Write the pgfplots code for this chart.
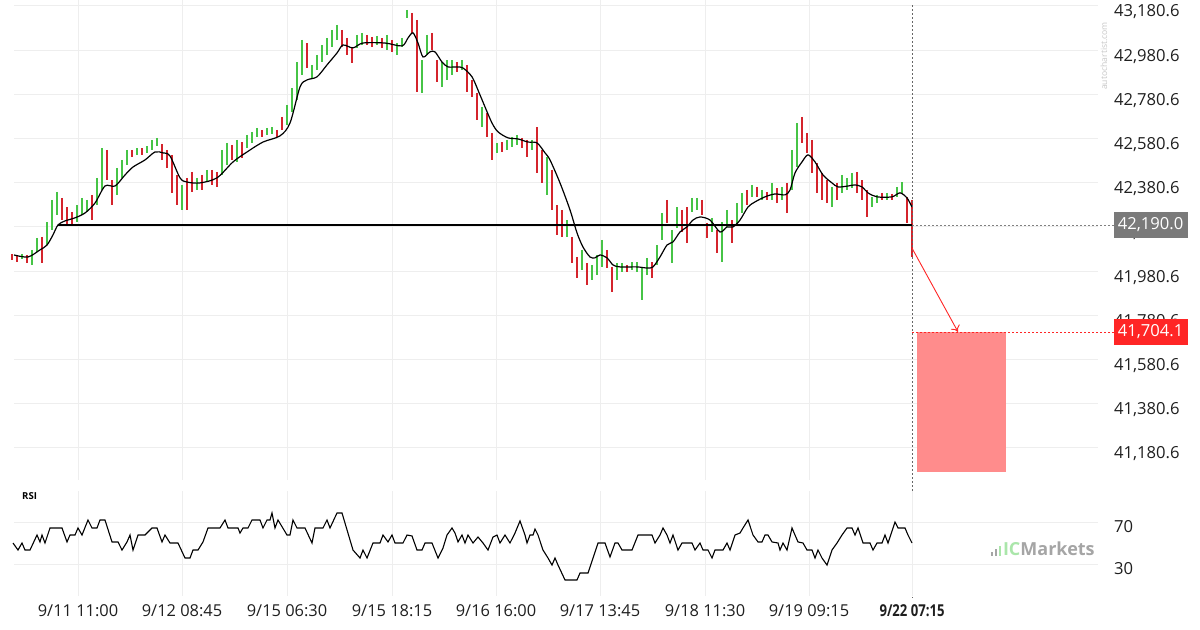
\documentclass[border=0pt]{standalone}
\usepackage{fontspec}
\setmainfont{Open Sans}
\usepackage{graphicx}
\usepackage{pgfplots}
\usepackage{pgfplotstable}
\usetikzlibrary{arrows.meta}
\pgfplotsset{compat=1.18}
\definecolor{upgreen}{RGB}{70,196,70}
\definecolor{dnred}{RGB}{212,36,44}
\definecolor{gridc}{RGB}{238,238,238}
\definecolor{boxred}{RGB}{255,140,140}
\definecolor{lblred}{RGB}{255,38,38}
\definecolor{lblgray}{RGB}{122,122,122}
\definecolor{icgreen}{RGB}{170,230,170}
\definecolor{icgray}{RGB}{165,165,165}

\pgfplotstableread{
x lo hi
22 42036 42059
32 42009 42077
37 42068 42131
47 42099 42203
52 42167 42303
57 42235 42339
77 42203 42280
82 42235 42312
87 42249 42303
97 42280 42403
102 42348 42538
117 42326 42448
122 42403 42484
127 42461 42529
137 42507 42538
147 42516 42547
152 42529 42575
157 42547 42584
182 42258 42371
197 42348 42403
207 42384 42439
222 42416 42529
227 42461 42561
237 42475 42575
247 42538 42597
252 42561 42611
257 42588 42629
267 42597 42629
272 42602 42633
287 42642 42733
292 42701 42810
297 42756 42927
302 42869 43027
312 42855 42914
317 42891 42959
322 42927 43004
327 42959 43036
332 42995 43072
337 43027 43095
357 42991 43050
362 43004 43059
377 43004 43045
387 42982 43050
397 42959 43013
402 42995 43036
407 43127 43163
422 42787 42936
427 42959 43050
442 42814 42927
447 42846 42936
452 42869 42936
462 42891 42936
482 42633 42724
497 42516 42561
507 42529 42575
512 42543 42588
517 42552 42597
532 42529 42575
547 42326 42498
567 42136 42212
582 41986 42077
592 41941 42009
597 41964 42054
602 42000 42122
617 41941 42018
622 41977 42018
632 41986 42022
637 41977 42022
642 41851 42000
647 41964 42041
657 42009 42099
662 42122 42244
672 42018 42167
677 42176 42271
692 42249 42312
697 42258 42312
712 42158 42222
722 42022 42203
727 42181 42258
737 42190 42289
742 42244 42335
752 42317 42371
762 42303 42348
772 42303 42380
782 42303 42362
792 42348 42529
797 42452 42651
832 42271 42362
842 42335 42416
847 42348 42403
852 42357 42425
872 42271 42317
877 42289 42326
887 42303 42335
897 42317 42362
902 42335 42384
}\greenbars

\pgfplotstableread{
x lo hi
12 42031 42059
17 42022 42054
27 42018 42054
42 42018 42136
62 42212 42312
67 42190 42271
72 42185 42249
92 42212 42326
107 42393 42529
112 42280 42393
132 42498 42529
142 42507 42538
162 42484 42556
167 42448 42529
172 42335 42507
177 42280 42416
187 42258 42403
192 42339 42430
202 42348 42416
212 42371 42439
217 42362 42430
232 42484 42552
242 42493 42565
262 42588 42620
277 42588 42620
282 42620 42679
307 42900 43013
342 42995 43072
347 42959 43036
352 42923 42995
367 43004 43050
372 42995 43041
382 42991 43036
392 42973 43027
412 43059 43149
417 42792 43118
432 42982 43059
437 42837 42936
457 42882 42927
467 42792 42914
472 42769 42846
477 42665 42787
487 42588 42697
492 42484 42606
502 42520 42565
522 42538 42584
527 42498 42575
537 42425 42633
542 42380 42529
552 42258 42439
557 42145 42280
562 42136 42258
572 42018 42136
577 41950 42045
587 41918 42018
607 41995 42077
612 41887 42000
627 41977 42009
652 41950 42022
667 42199 42303
682 42158 42258
687 42108 42271
702 42235 42303
707 42131 42199
717 42063 42167
732 42108 42212
747 42280 42348
757 42317 42362
767 42303 42339
777 42289 42357
787 42244 42380
802 42561 42679
807 42516 42606
812 42425 42575
817 42335 42470
822 42303 42425
827 42289 42393
837 42303 42380
857 42335 42430
862 42303 42393
867 42226 42348
882 42303 42335
892 42303 42330
907 42199 42317
912 42045 42303
}\redbars

\pgfplotstableread{
x ma
14 42054
28 42045
40 42077
47 42099
53 42145
58 42190
65 42208
75 42222
85 42244
95 42289
105 42366
115 42366
125 42416
133 42452
145 42484
155 42520
163 42516
170 42502
180 42403
187 42384
200 42380
217 42403
233 42475
247 42520
263 42565
280 42593
290 42651
300 42814
307 42846
317 42860
327 42914
337 42968
343 43004
353 42991
363 43013
385 43013
402 43000
408 43036
413 43059
418 43013
423 42950
430 42973
435 42973
442 42927
448 42905
457 42905
463 42900
472 42860
480 42778
485 42724
492 42651
498 42611
508 42584
518 42579
528 42565
537 42561
545 42516
550 42484
560 42380
570 42258
577 42154
583 42090
590 42045
595 42041
600 42054
607 42041
613 42009
620 42000
637 42000
647 41995
653 42000
660 42045
667 42099
673 42113
680 42158
687 42181
693 42212
700 42226
710 42212
720 42158
727 42181
733 42181
740 42212
748 42271
755 42294
765 42317
775 42330
785 42326
790 42348
795 42425
802 42475
808 42507
815 42475
823 42416
832 42380
838 42362
848 42366
855 42371
862 42362
868 42335
877 42317
892 42317
900 42335
907 42312
912 42271
}\matab

\pgfplotstableread{
x rsi
13 50
18 43.3
22 50
25 43.3
30 43.3
37 57.6
40 51
42 57.6
45 50
50 64.3
62 64.3
67 51
70 57.6
75 57.6
78 64.3
82 57.6
88 71.9
92 64.3
97 64.3
100 71.9
105 71.9
112 51
118 51
122 43.3
127 51
130 57.6
133 43.3
138 57.6
145 57.6
152 64.3
157 64.3
162 51
165 57.6
170 50
178 50
185 35.7
190 35.7
193 43.3
198 43.3
203 51
208 64.3
220 64.3
225 71.9
228 64.3
238 64.3
240 59.5
243 64.3
248 64.3
252 71.9
260 71.9
263 64.3
267 71.9
270 71.9
272 78.6
275 64.3
278 71.9
287 57.6
290 57.6
293 71.9
297 64.3
305 64.3
312 50
315 64.3
323 64.3
327 71.9
330 64.3
337 78.6
342 78.6
353 43.3
360 35.7
363 43.3
367 35.7
373 50
380 50
383 57.6
388 51
392 57.6
395 50
403 50
407 57.6
412 56.7
417 43.3
422 43.3
425 50
432 50
438 35.7
443 45.2
447 57.6
452 64.3
455 59.5
458 51
462 57.6
465 50
468 57.6
473 50
478 55.7
483 50
488 43.3
493 55.7
497 57.6
500 50
505 57.6
510 50
515 59.5
520 71
525 57.6
527 50
530 57.6
533 57.6
535 63.3
538 57.6
543 43.3
548 35.7
552 29
555 35.7
558 29
565 14.8
577 14.8
580 21.4
588 21.4
593 35.7
598 50
605 50
610 36.7
615 50
618 50
622 43.3
632 43.3
638 57.6
652 57.6
655 50
660 57.6
663 64.3
667 57.6
670 50
673 57.6
678 43.3
682 50
692 50
695 43.3
700 50
703 43.3
708 43.3
712 35.7
715 43.3
723 43.3
727 50
730 43.3
735 57.6
740 59.5
743 64.3
748 71.9
753 57.6
758 51
762 51
765 57.6
768 57.6
772 51
778 50
780 43.3
783 50
787 43.3
792 64.3
795 57.6
798 51
803 50
807 43.3
812 43.3
815 35.7
818 43.3
822 35.7
827 29
832 43.3
837 50
842 57.6
847 64.3
852 64.3
855 57.6
858 64.3
863 50
870 50
873 43.3
877 50
882 50
885 57.6
888 50
895 70
898 64.3
905 64.3
908 57.6
912 50
}\rsitab

\begin{document}
\begin{tikzpicture}
\path[use as bounding box] (0,0) rectangle (600pt,-315pt);
\begin{axis}[
  at={(7pt,-240pt)}, anchor=south west, scale only axis,
  width=542pt, height=240pt,
  xmin=14, xmax=1098, ymin=41035.8, ymax=43207.7,
  axis line style={draw=none}, major tick length=0pt,
  xtick={78,182,287,392,496,600,705,809}, xticklabels={},
  ytick={41180.6,41380.6,41580.6,41780.6,41980.6,42180.6,42380.6,42580.6,42780.6,42980.6,43180.6},
  yticklabels={{41,180.6},{41,380.6},{41,580.6},{41,780.6},{41,980.6},{42,180.6},{42,380.6},{42,580.6},{42,780.6},{42,980.6},{43,180.6}},
  yticklabel pos=right,
  yticklabel style={anchor=west, xshift=4.5pt, yshift=-3pt, font=\fontsize{8.3}{10}\selectfont, text=black!88},
  grid=major, major grid style={gridc, line width=0.5pt},
  clip=false,
]
\addplot[draw=none, mark=none, forget plot, error bars/.cd, y dir=minus, y explicit, error mark=none,
  error bar style={draw=upgreen, line width=1.25pt}] table[x=x, y=hi, y error expr=\thisrow{hi}-\thisrow{lo}] {\greenbars};
\addplot[draw=none, mark=none, forget plot, error bars/.cd, y dir=minus, y explicit, error mark=none,
  error bar style={draw=dnred, line width=1.25pt}] table[x=x, y=hi, y error expr=\thisrow{hi}-\thisrow{lo}] {\redbars};
\addplot[black, line width=0.6pt, smooth, mark=none] table[x=x, y=ma] {\matab};
\addplot[black, line width=1.3pt, mark=none] coordinates {(58,42190) (912,42190)};
\fill[boxred] (axis cs:917,41704.1) rectangle (axis cs:1006,41072);
\draw[gray, dash pattern=on 1pt off 1pt, line width=0.4pt] (axis cs:912,42190) -- (axis cs:1114,42190);
\draw[lblred, dash pattern=on 1pt off 1pt, line width=0.4pt] (axis cs:912,41704.1) -- (axis cs:1114,41704.1);
\draw[gray!80!black, dash pattern=on 1pt off 1pt, line width=0.4pt] (axis cs:912,43185) -- (axis cs:912,40502);
\draw[lblred, line width=0.45pt, -{To[length=3pt,width=5pt]}] (axis cs:912,42085) -- (axis cs:958,41706);
\end{axis}

\begin{axis}[
  at={(7pt,-297.75pt)}, anchor=south west, scale only axis,
  width=542pt, height=52.5pt,
  xmin=14, xmax=1098, ymin=0, ymax=100,
  axis line style={draw=none}, major tick length=0pt,
  xtick={78,182,287,392,496,600,705,809,912},
  xticklabels={9/11 11:00,9/12 08:45,9/15 06:30,9/15 18:15,9/16 16:00,9/17 13:45,9/18 11:30,9/19 09:15,{\bfseries\scalebox{0.8}[1]{9/22 07:15}}},
  xticklabel style={font=\fontsize{8.2}{10}\selectfont, text=black!88, yshift=-1.2pt},
  ytick={30,70}, yticklabels={30,70},
  yticklabel pos=right,
  yticklabel style={anchor=west, xshift=4.5pt, yshift=-2.5pt, font=\fontsize{8.3}{10}\selectfont, text=black!88},
  grid=major, major grid style={gridc, line width=0.5pt},
  clip=false,
]
\addplot[black, line width=0.55pt, mark=none] table[x=x, y=rsi] {\rsitab};
\end{axis}

\node[fill=lblgray, text=white, minimum width=37pt, minimum height=12.8pt, inner sep=0pt, font=\fontsize{8.3}{10}\selectfont] at (575.25pt,-112.4pt) {42,190.0};
\node[fill=lblred, text=white, minimum width=37pt, minimum height=13pt, inner sep=0pt, font=\fontsize{8.3}{10}\selectfont] at (575.25pt,-166pt) {41,704.1};
\node[rotate=90, text=black!22, inner sep=0pt, font=\fontsize{4.3}{5}\selectfont] at (552pt,-28pt) {autochartist.com};
\node[inner sep=0pt, font=\bfseries\fontsize{4.8}{6}\selectfont] at (14.8pt,-248pt) {RSI};
\fill[icgray] (495.5pt,-278pt) rectangle (496.6pt,-276pt);
\fill[icgray] (497.5pt,-278pt) rectangle (498.6pt,-274.5pt);
\fill[icgreen] (499.5pt,-278pt) rectangle (500.6pt,-273pt);
\node[anchor=base west, inner sep=0pt, font=\bfseries\fontsize{9}{10}\selectfont] at (501.3pt,-278pt) {\textcolor{icgreen}{IC}\textcolor{icgray}{Markets}};
\end{tikzpicture}
\end{document}
